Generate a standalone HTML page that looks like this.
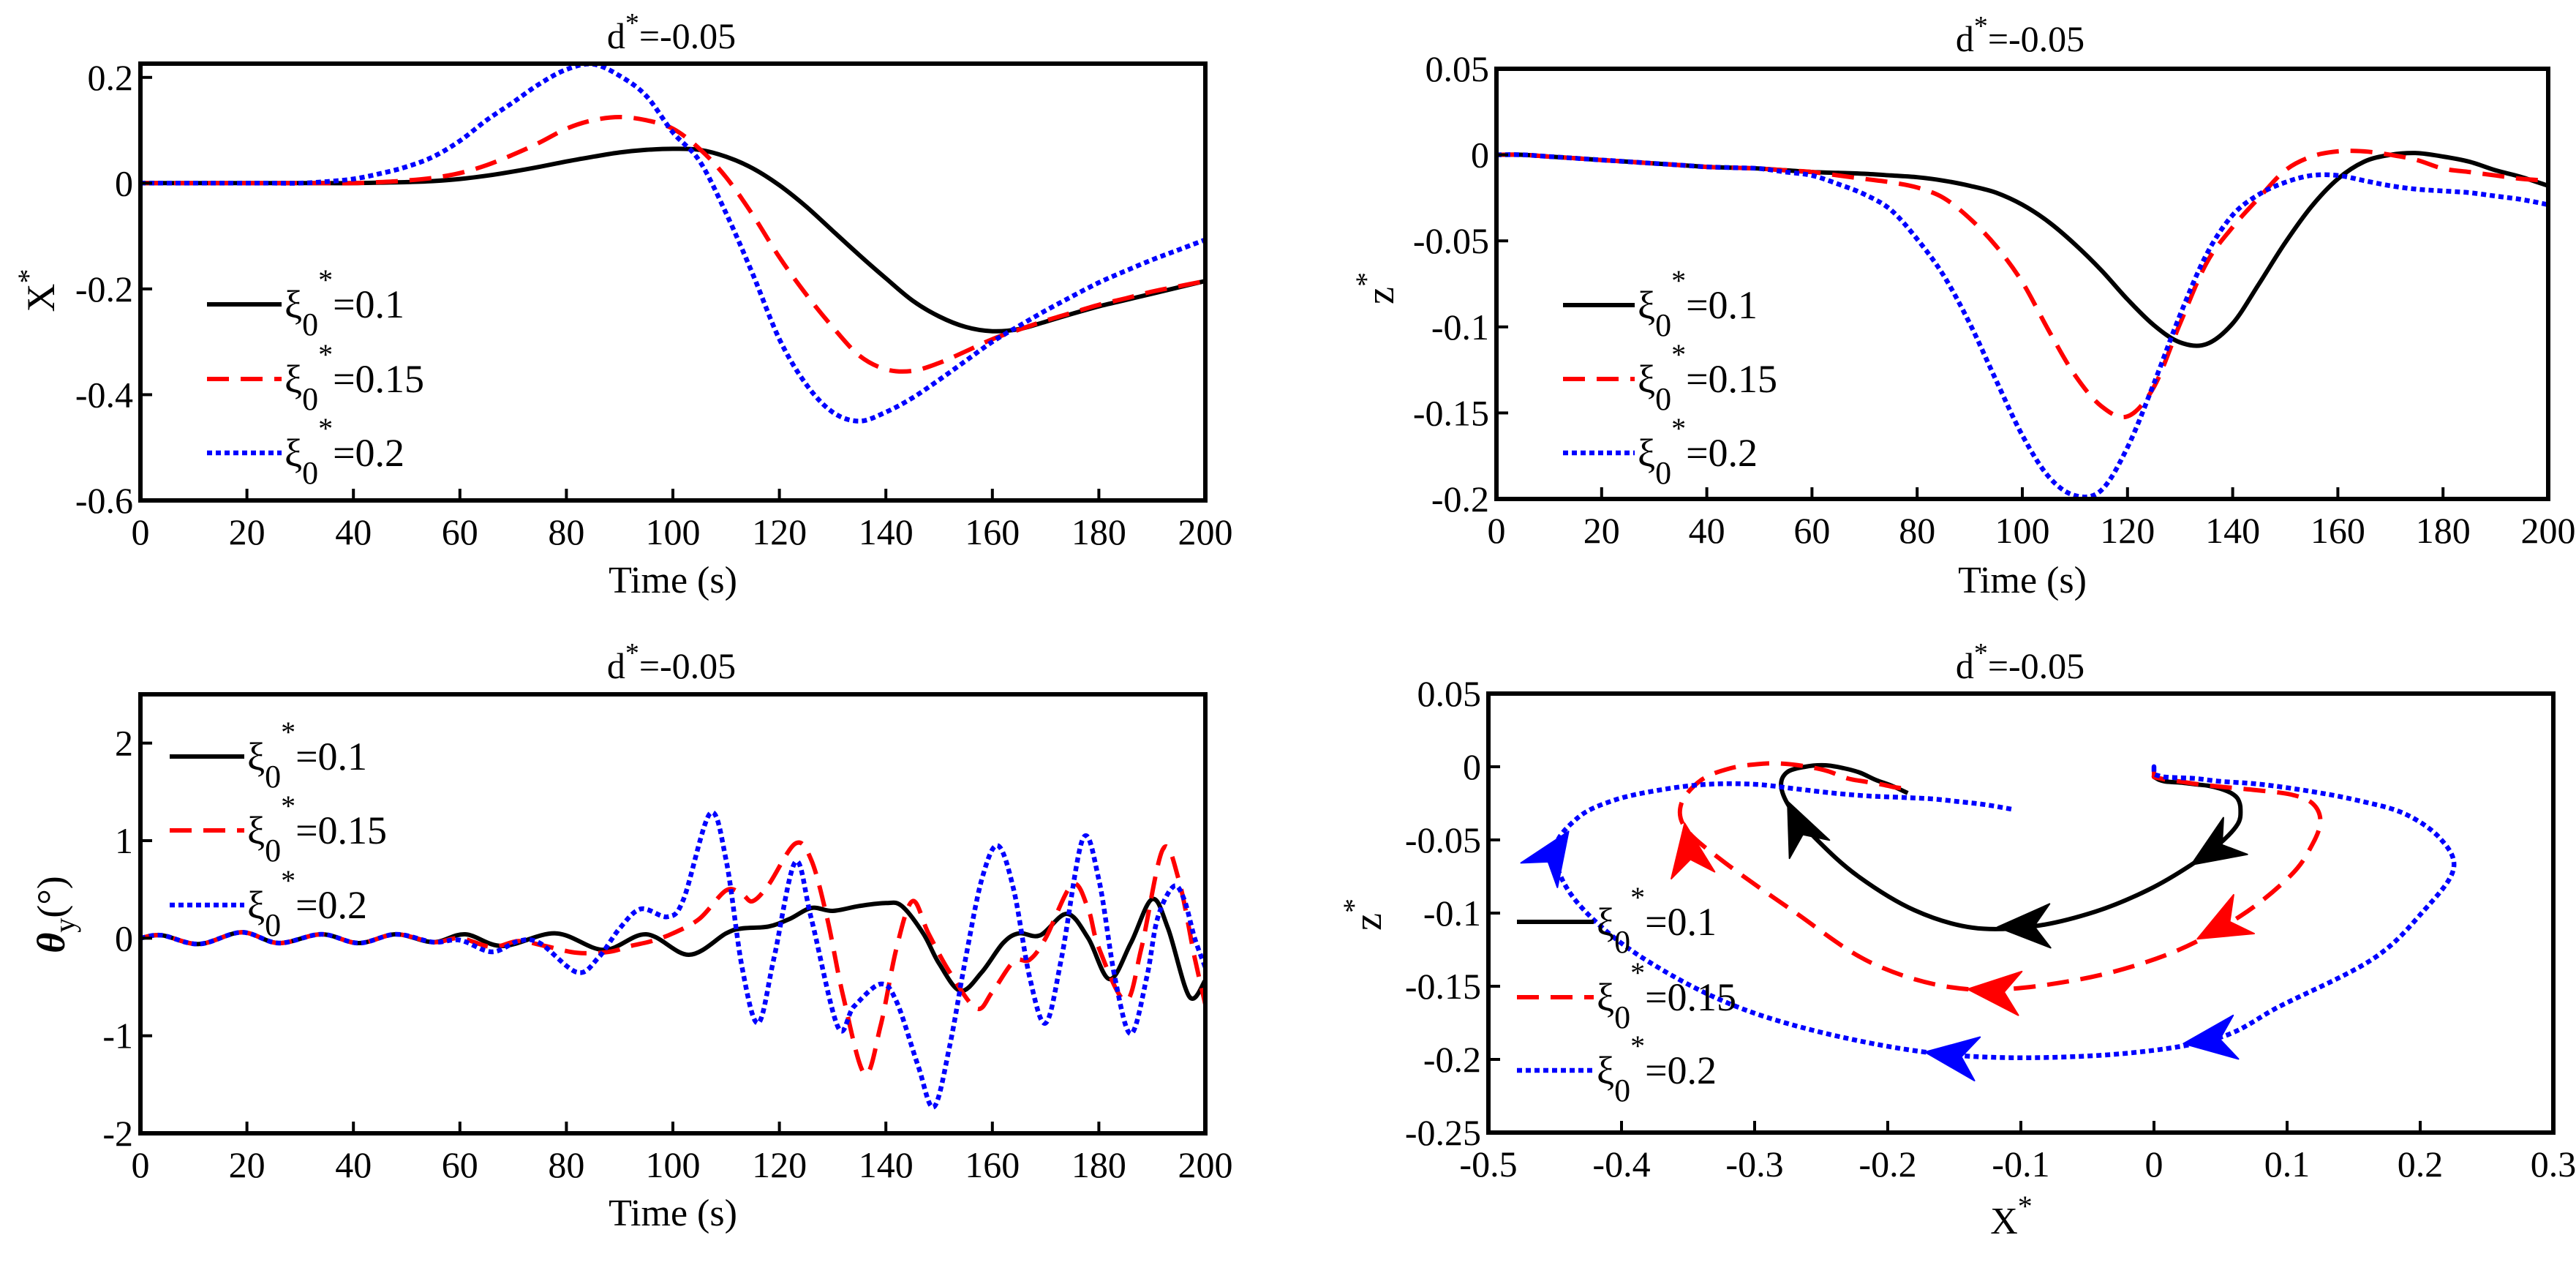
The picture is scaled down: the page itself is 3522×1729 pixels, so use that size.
<!DOCTYPE html>
<html><head><meta charset="utf-8">
<style>
html,body{margin:0;padding:0;background:#fff;}
svg{display:block;font-family:"Liberation Serif","DejaVu Serif",serif;}
</style></head>
<body>
<svg id="fig" width="3522" height="1729" viewBox="0 0 3522 1729" xmlns="http://www.w3.org/2000/svg"></svg>
<script>
// ---- data: time grid for X* and Z* (every 5 s) ----
const timeGrid = [0,5,10,15,20,25,30,35,40,45,50,55,60,65,70,75,80,85,90,95,100,105,110,115,120,125,130,135,140,145,150,155,160,165,170,175,180,185,190,195,200];
const xBlack = [0,0,0,0,0,0,0,0,0,0.001,0.002,0.004,0.008,0.014,0.022,0.031,0.041,0.05,0.058,0.063,0.065,0.063,0.05,0.028,-0.004,-0.044,-0.09,-0.136,-0.18,-0.222,-0.252,-0.272,-0.28,-0.276,-0.262,-0.247,-0.233,-0.221,-0.209,-0.197,-0.185];
const xRed = [0,0,0,0,0,0,0,0,0,0.002,0.005,0.01,0.019,0.034,0.054,0.077,0.103,0.119,0.125,0.119,0.103,0.065,0.011,-0.06,-0.14,-0.21,-0.272,-0.326,-0.352,-0.355,-0.34,-0.318,-0.295,-0.277,-0.26,-0.245,-0.23,-0.218,-0.205,-0.195,-0.185];
const xBlue = [0,0,0,0,0,0,0,0.003,0.008,0.018,0.031,0.05,0.08,0.119,0.153,0.188,0.215,0.225,0.203,0.165,0.096,0.042,-0.057,-0.172,-0.295,-0.38,-0.433,-0.45,-0.433,-0.406,-0.372,-0.336,-0.3,-0.27,-0.241,-0.214,-0.188,-0.166,-0.145,-0.126,-0.107];
const zBlack = [0,0,-0.001,-0.002,-0.003,-0.004,-0.005,-0.006,-0.007,-0.0075,-0.008,-0.009,-0.01,-0.0105,-0.011,-0.012,-0.013,-0.015,-0.018,-0.022,-0.029,-0.039,-0.052,-0.067,-0.084,-0.099,-0.109,-0.11,-0.098,-0.075,-0.051,-0.03,-0.014,-0.004,0,0.001,-0.001,-0.004,-0.009,-0.013,-0.018];
const zRed = [0,0,-0.001,-0.002,-0.003,-0.004,-0.005,-0.006,-0.007,-0.0075,-0.008,-0.009,-0.01,-0.012,-0.014,-0.016,-0.019,-0.025,-0.037,-0.053,-0.074,-0.102,-0.128,-0.146,-0.152,-0.135,-0.098,-0.063,-0.042,-0.025,-0.009,-0.001,0.002,0.002,0,-0.003,-0.008,-0.01,-0.012,-0.014,-0.015];
const zBlue = [0,0,-0.001,-0.002,-0.003,-0.004,-0.005,-0.006,-0.007,-0.0075,-0.008,-0.01,-0.012,-0.017,-0.023,-0.032,-0.049,-0.07,-0.098,-0.131,-0.163,-0.187,-0.198,-0.195,-0.17,-0.133,-0.093,-0.058,-0.035,-0.023,-0.016,-0.012,-0.012,-0.015,-0.018,-0.02,-0.021,-0.022,-0.024,-0.026,-0.029];
// ---- data: theta_y (deg) ----
const thBlackT = [0,4,11,19,26,34,41,48,55,61,68,78,87,95,103,110,113,118,122,126,130,135,140,143,147,150,154,158,162,165,169,174,178,182,186,190,193,197,200];
const thBlackV = [0,0.03,-0.06,0.06,-0.05,0.04,-0.05,0.04,-0.04,0.04,-0.08,0.05,-0.12,0.04,-0.17,0.05,0.1,0.12,0.2,0.31,0.28,0.33,0.36,0.33,0.05,-0.26,-0.54,-0.35,-0.05,0.05,0.03,0.25,0,-0.42,-0.05,0.4,0.1,-0.6,-0.43];
const thRedT = [0,4,11,19,26,34,41,48,55,60,66,71,76,82,88,92,96,100,105,110,113,115,118,123,126,129,132,136,139,142,145,148,152,157,160,164,167,170,175,178,180,185,188,192,195,198,200];
const thRedV = [0,0.03,-0.06,0.06,-0.05,0.04,-0.05,0.04,-0.04,0,-0.09,-0.03,-0.08,-0.15,-0.14,-0.08,-0.03,0.05,0.2,0.49,0.45,0.38,0.55,0.97,0.8,0.2,-0.6,-1.39,-0.9,-0.1,0.38,0.05,-0.35,-0.72,-0.55,-0.24,-0.22,0,0.55,0.3,-0.1,-0.64,-0.1,0.91,0.6,-0.2,-0.68];
const thBlueT = [0,4,11,19,26,34,41,48,55,60,66,71,75,82,86,90,94,99,102,107,110,113,116,119,123,126,131,134,139,142,146,149,152,155,158,161,164,167,170,173,177,180,183,186,189,191,194,196,198,200];
const thBlueV = [0,0.03,-0.06,0.06,-0.05,0.04,-0.05,0.04,-0.04,-0.02,-0.14,-0.03,-0.05,-0.35,-0.2,0.1,0.3,0.22,0.4,1.28,0.8,-0.3,-0.87,-0.2,0.78,0.2,-0.91,-0.7,-0.47,-0.65,-1.3,-1.73,-1.1,-0.2,0.6,0.95,0.5,-0.4,-0.87,-0.2,1.02,0.6,-0.4,-0.98,-0.4,0.2,0.53,0.4,0,-0.3];
// arrow times on phase plot
const arrowTimesBlack = [115,133,157];
const arrowTimesRed = [108,120,141];
const arrowTimesBlue = [106,115,138];
const timeTicks = [0,20,40,60,80,100,120,140,160,180,200];
const xStarTicks = [0.2,0,-0.2,-0.4,-0.6];
const zStarTicks = [0.05,0,-0.05,-0.1,-0.15,-0.2];
const thetaTicks = [2,1,0,-1,-2];
const phaseXTicks = [-0.5,-0.4,-0.3,-0.2,-0.1,0,0.1,0.2,0.3];
const phaseZTicks = [0.05,0,-0.05,-0.1,-0.15,-0.2,-0.25];
const legendLabels = ["=0.1","=0.15","=0.2"];

const NS = "http://www.w3.org/2000/svg";
const fig = document.getElementById('fig');
const STY = [
  {stroke:"#000", dash:null, w:6},
  {stroke:"#ff0000", dash:"30,16", w:6},
  {stroke:"#0000ff", dash:"7,5", w:6.5}
];
const SNAMES = ["xi-0.1","xi-0.15","xi-0.2"];
function mk(tag, attrs, parent){
  const e = document.createElementNS(NS, tag);
  for (const k in attrs) e.setAttribute(k, attrs[k]);
  (parent||fig).appendChild(e);
  return e;
}
function fmt(v){ let s = String(+v.toFixed(3)); return s.replace(/^(-?)0\./,'$10.'); }
function axis(L,R,T,B,x0,x1,y0,y1){
  return {L,R,T,B,sx:v=>L+(v-x0)/(x1-x0)*(R-L), sy:v=>B-(v-y0)/(y1-y0)*(B-T)};
}
function smooth(pts){
  let d = "M"+pts[0][0].toFixed(1)+","+pts[0][1].toFixed(1);
  for(let i=0;i<pts.length-1;i++){
    const p0=pts[Math.max(0,i-1)],p1=pts[i],p2=pts[i+1],p3=pts[Math.min(pts.length-1,i+2)];
    const c1=[p1[0]+(p2[0]-p0[0])/6,p1[1]+(p2[1]-p0[1])/6];
    const c2=[p2[0]-(p3[0]-p1[0])/6,p2[1]-(p3[1]-p1[1])/6];
    d+=" C"+c1[0].toFixed(1)+","+c1[1].toFixed(1)+" "+c2[0].toFixed(1)+","+c2[1].toFixed(1)+" "+p2[0].toFixed(1)+","+p2[1].toFixed(1);
  }
  return d;
}
function drawSeries(g, ax, xs, ys, k, name){
  const pts = xs.map((x,i)=>[ax.sx(x), ax.sy(ys[i])]);
  const p = mk('path',{d:smooth(pts),fill:"none",stroke:STY[k].stroke,"stroke-width":STY[k].w,"stroke-linejoin":"round"},g);
  if(STY[k].dash) p.setAttribute('stroke-dasharray',STY[k].dash);
  
  
}
function title(cx, y){
  const t = mk('text',{x:cx,y:y,"font-size":50,"text-anchor":"middle"});
  
  
  t.innerHTML = 'd<tspan dy="-22" font-size="38">*</tspan><tspan dy="22">=-0.05</tspan>';
}
function frame(ax, xt, yt, xlab, ylab, pname){
  const g = mk('g',{});
  
  
  xt.forEach(v=>{
    const x = ax.sx(v);
    const tk = mk('line',{x1:x,x2:x,y1:ax.B,y2:ax.B-16,stroke:"#000","stroke-width":4},g);
    
    
    const lb = mk('text',{x:x,y:ax.B+60,"font-size":50,"text-anchor":"middle"},g);
    
    
    lb.textContent = xlab(v);
  });
  yt.forEach(v=>{
    const y = ax.sy(v);
    const tk = mk('line',{x1:ax.L,x2:ax.L+16,y1:y,y2:y,stroke:"#000","stroke-width":4},g);
    
    
    const lb = mk('text',{x:ax.L-10,y:y+17,"font-size":50,"text-anchor":"end"},g);
    
    
    lb.textContent = ylab(v);
  });
  const r = mk('rect',{x:ax.L,y:ax.T,width:ax.R-ax.L,height:ax.B-ax.T,fill:"none",stroke:"#000","stroke-width":6});
  
  
}
function legend(x1, x2, ys, pname){
  const g = mk('g',{});
  
  
  ys.forEach((y,k)=>{
    const ln = mk('line',{x1:x1,x2:x2,y1:y,y2:y,stroke:STY[k].stroke,"stroke-width":STY[k].w},g);
    if(STY[k].dash) ln.setAttribute('stroke-dasharray',STY[k].dash);
    
    
    const t = mk('text',{x:x2+4,y:y+18,"font-size":54},g);
    
    
    t.innerHTML = 'ξ<tspan dy="24" font-size="44">0</tspan><tspan dy="-62" font-size="40">*</tspan><tspan dy="38">'+legendLabels[k]+'</tspan>';
  });
}
function ylabel(x, y, html, name){
  const t = mk('text',{x:0,y:0,"font-size":54,"text-anchor":"middle",transform:"translate("+x+","+y+") rotate(-90)"});
  
  
  t.innerHTML = html;
}
function xlabel(x, y, html, name){
  const t = mk('text',{x:x,y:y,"font-size":52,"text-anchor":"middle"});
  
  
  t.innerHTML = html;
}
const tlab = v=>String(v);

// ---- Panel 1: X* vs time ----
(function(){
  const ax = axis(192,1648,87,684,0,200,-0.6,0.226);
  const g = mk('g',{});
  
  
  drawSeries(g,ax,timeGrid,xBlack,0,'x-star-line-0.1');
  drawSeries(g,ax,timeGrid,xRed,1,'x-star-line-0.15');
  drawSeries(g,ax,timeGrid,xBlue,2,'x-star-line-0.2');
  frame(ax,timeTicks,xStarTicks,tlab,fmt,'x-star-panel');
  title(918,66);
  legend(283,385,[416,518,619],'x-star-panel');
  xlabel(920,810,'Time (s)','x-axis-title');
  ylabel(74,397,'X<tspan dy="-22" font-size="40">*</tspan>','y-axis-title-x-star');
})();
// ---- Panel 2: Z* vs time ----
(function(){
  const ax = axis(2046,3484,94,682,0,200,-0.2,0.05);
  const g = mk('g',{});
  
  
  drawSeries(g,ax,timeGrid,zBlack,0,'z-star-line-0.1');
  drawSeries(g,ax,timeGrid,zRed,1,'z-star-line-0.15');
  drawSeries(g,ax,timeGrid,zBlue,2,'z-star-line-0.2');
  frame(ax,timeTicks,zStarTicks,tlab,fmt,'z-star-panel');
  title(2762,70);
  legend(2137,2235,[417,518,619],'z-star-panel');
  xlabel(2765,810,'Time (s)','x-axis-title');
  ylabel(1905,394,'z<tspan dy="-24" font-size="40">*</tspan>','y-axis-title-z-star');
})();
// ---- Panel 3: theta_y vs time ----
(function(){
  const ax = axis(192,1648,949,1549,0,200,-2,2.5);
  const g = mk('g',{});
  
  
  drawSeries(g,ax,thBlackT,thBlackV,0,'theta-line-0.1');
  drawSeries(g,ax,thRedT,thRedV,1,'theta-line-0.15');
  drawSeries(g,ax,thBlueT,thBlueV,2,'theta-line-0.2');
  frame(ax,timeTicks,thetaTicks,tlab,tlab,'theta-panel');
  title(918,927);
  legend(232,334,[1034,1135,1237],'theta-panel');
  xlabel(920,1675,'Time (s)','x-axis-title');
  ylabel(88,1250,'<tspan font-style="italic" font-weight="bold">θ</tspan><tspan dy="14" font-size="40">y</tspan><tspan dy="-14">(°)</tspan>','y-axis-title-theta');
})();
// ---- Panel 4: phase plot Z* vs X* ----
(function(){
  const ax = axis(2035,3491,948,1548,-0.5,0.3,-0.25,0.05);
  const g = mk('g',{});
  
  
  const sets = [[xBlack,zBlack,arrowTimesBlack],[xRed,zRed,arrowTimesRed],[xBlue,zBlue,arrowTimesBlue]];
  sets.forEach((s,k)=>{
    drawSeries(g,ax,s[0],s[1],k,'phase-line-'+SNAMES[k]);
  });
  function at(arr,t){
    const i = Math.min(timeGrid.length-2, Math.floor(t/5));
    const f = (t-timeGrid[i])/5;
    return arr[i]+(arr[i+1]-arr[i])*f;
  }
  sets.forEach((s,k)=>{
    s[2].forEach(t=>{
      const px = ax.sx(at(s[0],t)), py = ax.sy(at(s[1],t));
      const dx = ax.sx(at(s[0],t+1))-ax.sx(at(s[0],t-1));
      const dy = ax.sy(at(s[1],t+1))-ax.sy(at(s[1],t-1));
      const ang = Math.atan2(dy,dx)*180/Math.PI;
      const a = mk('path',{d:"M0,0 L-72,30 L-50,0 L-72,-30 Z",fill:STY[k].stroke,stroke:STY[k].stroke,"stroke-width":2,"stroke-linejoin":"round",transform:"translate("+px.toFixed(1)+","+py.toFixed(1)+") rotate("+ang.toFixed(1)+")"},g);
      
      
    });
  });
  frame(ax,phaseXTicks,phaseZTicks,fmt,fmt,'phase-panel');
  title(2762,927);
  legend(2074,2179,[1260,1363,1463],'phase-panel');
  xlabel(2750,1686,'X<tspan dy="-24" font-size="40">*</tspan>','x-axis-title-x-star');
  ylabel(1888,1250,'z<tspan dy="-24" font-size="40">*</tspan>','y-axis-title-z-star');
})();
</script>
</body></html>
